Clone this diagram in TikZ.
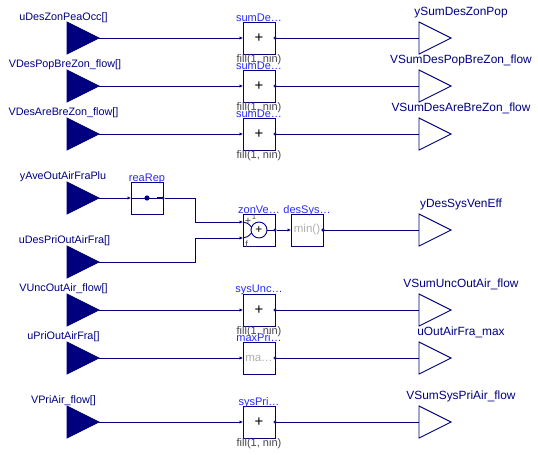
\documentclass[tikz,border=0pt]{standalone}
\usepackage{fontspec}
\setmainfont{Liberation Sans}
\usetikzlibrary{arrows.meta}
\definecolor{navy}{RGB}{0,0,127}
\definecolor{lblue}{RGB}{40,40,255}
\definecolor{gtxt}{RGB}{70,70,70}
\definecolor{ltxt}{RGB}{175,175,175}
\tikzset{
 x=1pt,y=-1pt,
 blk/.style={draw=navy,line width=1pt,fill=white,minimum width=32pt,minimum height=32pt,inner sep=0pt,outer sep=0pt,font=\fontsize{15}{15}\selectfont,text=black},
 toplbl/.style={text=lblue,font=\fontsize{11}{12}\selectfont,inner sep=0pt,anchor=base},
 iolbl/.style={text=navy,font=\fontsize{11.9}{13}\selectfont,inner sep=0pt,anchor=base},
 leftlbl/.style={text=navy,font=\fontsize{10.8}{12}\selectfont,inner sep=0pt,anchor=base},
 filllbl/.style={text=gtxt,font=\fontsize{11}{12}\selectfont,inner sep=0pt,anchor=base},
 wire/.style={draw=navy,line width=1pt},
 inwire/.style={wire,-{Latex[length=3.5pt,width=3.5pt]}},
 port/.style={circle,draw=navy,fill=white,line width=.7pt,minimum size=2.4pt,inner sep=0pt},
 outtri/.style={draw=navy,fill=white,line width=.9pt},
 intri/.style={draw=navy,fill=navy,line width=.8pt},
}
\newcommand{\inT}[2]{\draw[intri] (67,#2-16) -- (99,#2) -- (67,#2+16) -- cycle; \coordinate (#1) at (99,#2);}
\newcommand{\outT}[2]{\draw[outtri] (419,#2-16) -- (451,#2) -- (419,#2+16) -- cycle; \coordinate (#1) at (419,#2);}
\begin{document}
\begin{tikzpicture}
\useasboundingbox (0,0) rectangle (538,455);
% inputs
\inT{i1}{38}\inT{i2}{86}\inT{i3}{134}\inT{i4}{198}\inT{i5}{262}\inT{i6}{310}\inT{i7}{358}\inT{i8}{422}
% outputs
\outT{o1}{38}\outT{o2}{86}\outT{o3}{134}\outT{o4}{230}\outT{o6}{310}\outT{o7}{358}\outT{o8}{422}
% blocks
\node[blk] (b1) at (259,38) {+};
\node[blk] (b2) at (259,86) {+};
\node[blk] (b3) at (259,134) {+};
\node[blk] (rep) at (147,198) {};
\node[blk] (zon) at (259,230) {};
\node[blk,text=ltxt,font=\fontsize{11.5}{12}\selectfont] (des) at (307,230) {min()};
\node[blk] (b6) at (259,310) {+};
\node[blk,text=ltxt,font=\fontsize{11.5}{12}\selectfont] (b7) at (259,358) {ma…};
\node[blk] (b8) at (259,422) {+};
% wires
\foreach \a/\b in {i1/b1,i2/b2,i3/b3,i6/b6,i7/b7,i8/b8}{\draw[inwire] (\a) -- (\b.west);}
\foreach \b/\o in {b1/o1,b2/o2,b3/o3,b6/o6,b7/o7,b8/o8,des/o4}{\draw[wire] (\b.east) -- (\o); \node[port] at (\b.east) {};}
\draw[inwire] (i4) -- (rep.west);
% reaRep icon
\fill[navy] (147,198) circle (2.6);
\draw[wire] (rep.west) -- (157,198);
\draw[navy,line width=2pt] (157,198) -- (163,198);
\node[port] (repout) at (rep.east) {};
% zonVe
\coordinate (zi1) at (243,222);
\coordinate (zi2) at (243,238);
\draw[inwire] (repout) -| (195,222) -- (zi1);
\draw[inwire] (i5) -| (195,238) -- (zi2);
\node[draw=navy,fill=white,circle,line width=.9pt,minimum size=16pt,inner sep=0pt,font=\fontsize{12}{12}\selectfont] (sumc) at (259,230) {+};
\draw[navy,line width=.9pt] (zi1) .. controls (246,222) and (249,224) .. (251.5,227);
\draw[navy,line width=.9pt] (zi2) .. controls (246,238) and (249,236) .. (251.5,233);
\draw[wire] (sumc.east) -- (zon.east);
\node[port] (zout) at (zon.east) {};
\draw[inwire] (zout) -- (des.west);
\node[port] at (des.east) {};
\node[filllbl,font=\fontsize{11}{11}\selectfont] (zplus) at (248,224) {+};
\node[filllbl,font=\fontsize{7}{7}\selectfont] (zone) at (254,219) {1};
\node[filllbl,font=\fontsize{9}{9}\selectfont] (zf) at (251,247) {f…};
% labels
\node[leftlbl] (l1) at (63.5,20) {uDesZonPeaOcc[]};
\node[leftlbl] (l2) at (65,67) {VDesPopBreZon\_flow[]};
\node[leftlbl] (l3) at (63.5,115) {VDesAreBreZon\_flow[]};
\node[leftlbl] (l4) at (63,179) {yAveOutAirFraPlu};
\node[leftlbl] (l5) at (64.5,243) {uDesPriOutAirFra[]};
\node[leftlbl] (l6) at (63.5,291) {VUncOutAir\_flow[]};
\node[leftlbl] (l7) at (63.5,339) {uPriOutAirFra[]};
\node[leftlbl] (l8) at (63.5,403) {VPriAir\_flow[]};
\node[iolbl] (r1) at (461,15) {ySumDesZonPop};
\node[iolbl] (r2) at (461,63) {VSumDesPopBreZon\_flow};
\node[iolbl] (r3) at (461,111) {VSumDesAreBreZon\_flow};
\node[iolbl] (r4) at (461,207) {yDesSysVenEff};
\node[iolbl] (r6) at (461,287) {VSumUncOutAir\_flow};
\node[iolbl] (r7) at (461,335) {uOutAirFra\_max};
\node[iolbl] (r8) at (461,399) {VSumSysPriAir\_flow};
\node[toplbl] (t1) at (259,21) {sumDe…};
\node[toplbl] (t2) at (259,69) {sumDe…};
\node[toplbl] (t3) at (259,117) {sumDe…};
\node[toplbl] (t4) at (147,181) {reaRep};
\node[toplbl] (t5) at (259,213) {zonVe…};
\node[toplbl] (t6) at (307,213) {desSys…};
\node[toplbl] (t7) at (259,292) {sysUnc…};
\node[toplbl] (t8) at (259,341) {maxPri…};
\node[toplbl] (t9) at (259,405) {sysPri…};
\foreach \p in {62,110,158,334,446}{\node[filllbl] at (259,\p) {fill(1, nin)};}
\end{tikzpicture}
\end{document}
